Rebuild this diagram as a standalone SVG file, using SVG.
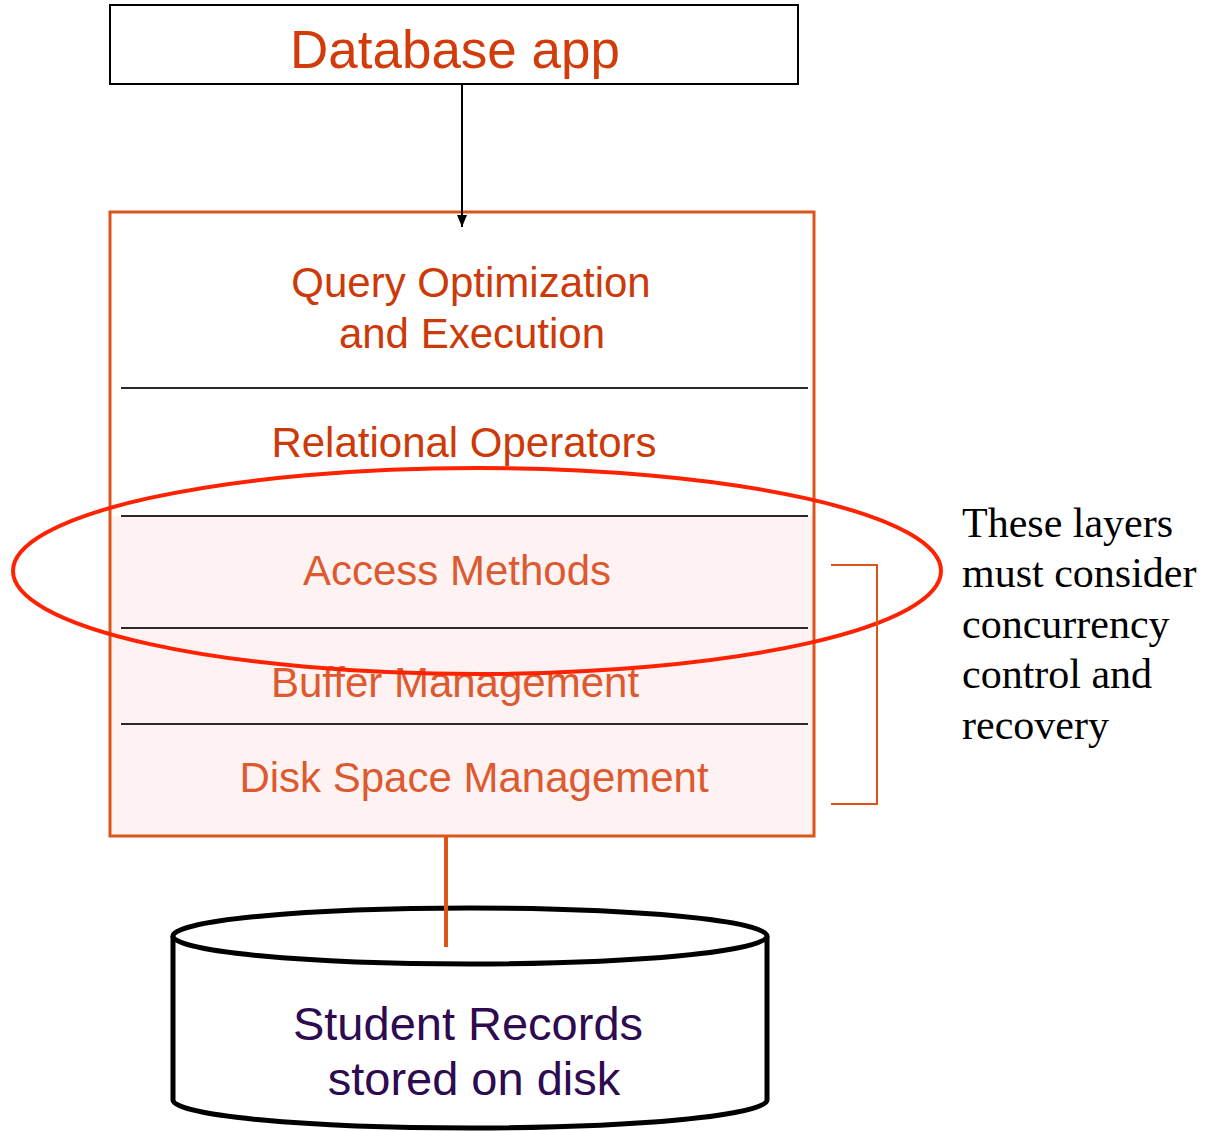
<svg xmlns="http://www.w3.org/2000/svg" width="1207" height="1131" viewBox="0 0 1207 1131">
  <defs>
    <style>
      .sans { font-family: "Liberation Sans", Arial, sans-serif; }
      .serif { font-family: "Liberation Serif", "Times New Roman", serif; }
      .layer { font-size: 42px; fill: #dd5a30; text-anchor: middle; }
      .divider { stroke: #2a2a2a; stroke-width: 2; }
      .orange { stroke: #dc5418; fill: none; }
    </style>
    <marker id="arrow" markerWidth="12" markerHeight="10" refX="12" refY="5" orient="auto" markerUnits="userSpaceOnUse" viewBox="0 0 12 10">
      <path d="M0,0 L12,5 L0,10 Z" fill="#000"/>
    </marker>
  </defs>

  <rect width="1207" height="1131" fill="#fff"/>

  <!-- application box -->
  <g id="database-app">
    <rect x="110" y="5" width="688" height="79" fill="#fff" stroke="#000" stroke-width="2"/>
    <text x="455" y="68" class="sans" font-size="53" fill="#d23c0a" text-anchor="middle">Database app</text>
  </g>

  <!-- DBMS layer stack -->
  <g id="dbms-stack">
    <rect x="110" y="212" width="704" height="624" fill="#fff"/>
    <rect x="110" y="516" width="704" height="320" fill="#fef3f2"/>
    <rect x="110" y="212" width="704" height="624" class="orange" stroke-width="3"/>
    <line x1="121" y1="388" x2="808" y2="388" class="divider"/>
    <line x1="121" y1="516" x2="808" y2="516" class="divider"/>
    <line x1="121" y1="628" x2="808" y2="628" class="divider"/>
    <line x1="121" y1="724" x2="808" y2="724" class="divider"/>
    <g id="layer-query">
      <text x="471" y="297" class="sans" font-size="42" fill="#cc3a0a" text-anchor="middle">Query Optimization</text>
      <text x="472" y="348" class="sans" font-size="42" fill="#cc3a0a" text-anchor="middle">and Execution</text>
    </g>
    <g id="layer-relational">
      <text x="464" y="457" class="sans" font-size="42" fill="#cc3a0a" text-anchor="middle">Relational Operators</text>
    </g>
    <g id="layer-access">
      <text x="457" y="585" class="sans layer">Access Methods</text>
    </g>
    <g id="layer-buffer">
      <text x="455" y="697" class="sans layer">Buffer Management</text>
    </g>
    <g id="layer-disk">
      <text x="474" y="792" class="sans layer">Disk Space Management</text>
    </g>
  </g>

  <!-- highlight ring around the access-methods layer -->
  <g id="highlight">
    <ellipse cx="477" cy="571" rx="464" ry="103" fill="none" stroke="#ff2200" stroke-width="4"/>
  </g>

  <!-- bracket and note -->
  <g id="note">
    <polyline points="831,565 877,565 877,804 831,804" class="orange" stroke-width="2"/>
    <g class="serif" font-size="42" fill="#000">
      <text x="962" y="537">These layers</text>
      <text x="962" y="587">must consider</text>
      <text x="962" y="638">concurrency</text>
      <text x="962" y="688">control and</text>
      <text x="962" y="739">recovery</text>
    </g>
  </g>

  <!-- disk store -->
  <g id="disk">
    <path d="M173,936 L173,1100 A297,28 0 0 0 767,1100 L767,936" fill="#fff" stroke="#000" stroke-width="5"/>
    <ellipse cx="470" cy="936" rx="297" ry="28" fill="#fff" stroke="#000" stroke-width="5"/>
    <text x="468" y="1040" class="sans" font-size="47" fill="#2e0a50" text-anchor="middle">Student Records</text>
    <text x="474" y="1095" class="sans" font-size="47" fill="#2e0a50" text-anchor="middle">stored on disk</text>
  </g>

  <!-- connectors -->
  <g id="connectors">
    <line x1="462" y1="84" x2="462" y2="227" stroke="#000" stroke-width="2" marker-end="url(#arrow)"/>
    <line x1="446" y1="836" x2="446" y2="947" stroke="#dc5418" stroke-width="4"/>
  </g>
</svg>
